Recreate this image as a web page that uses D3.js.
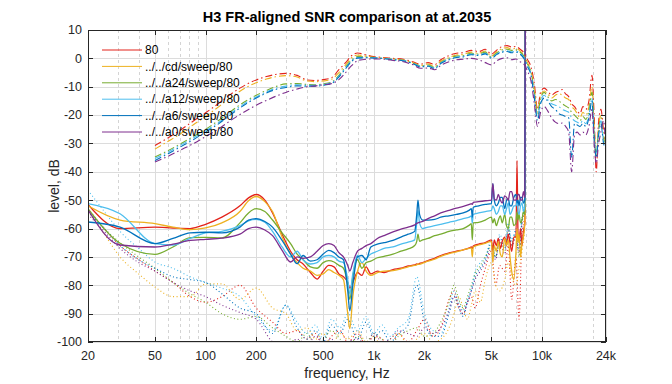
<!DOCTYPE html>
<html>
<head>
<meta charset="utf-8">
<script src="https://cdn.jsdelivr.net/npm/d3@7"></script>
<style>
  body { margin: 0; background: #fff; }
  text { font-family: "Liberation Sans", Arial, Helvetica, sans-serif; }
</style>
</head>
<body>
<svg id="vis"></svg>
<script>
// series names and colours (legend order)
const SERIES = ['80', '../../cd/sweep/80', '../../a24/sweep/80', '../../a12/sweep/80', '../../a6/sweep/80', '../../a0/sweep/80']
const COLORS = ['#e3231b', '#edb120', '#77ac30', '#4dbeee', '#0072bd', '#7e2f8e']

// axis ticks
const X_TICKS = [20, 50, 100, 200, 500, 1000, 2000, 5000, 10000, 24000]
const X_TICK_LABELS = ['20', '50', '100', '200', '500', '1k', '2k', '5k', '10k', '24k']
const Y_TICKS = [10, 0, -10, -20, -30, -40, -50, -60, -70, -80, -90, -100]

// frequency response, dash-dot
const frFreq = [50, 60, 70, 85, 100, 120, 140, 160, 180, 200,
  230, 260, 300, 350, 400, 450, 500, 560, 620, 680,
  740, 800, 900, 1000, 1150, 1300, 1500, 1700, 1900, 2100,
  2300, 2500, 2800, 3100, 3400, 3800, 4200, 4600, 5000, 5400,
  5800, 6200, 6600, 7000, 7400, 7800, 8200, 8600, 9000, 9400,
  9800, 10300, 10800, 11400, 12000, 12600, 13200, 13800, 14400, 15000,
  15600, 16200, 16800, 17500, 18200, 19000, 19800, 20400, 21000, 21700,
  22400, 23200, 24000]
const frRed = [-30.7, -28, -25.5, -22, -19.2, -15.8, -12.8, -10.5, -8.8, -7.6,
  -6.4, -5.7, -5.3, -6, -7.6, -7.8, -7.5, -6.8, -4, -1.5,
  1, 1.9, 1.2, 0.6, 0.3, 0, -0.3, -1.2, -2, -1.5,
  -2.2, -0.5, 1, 1.8, 2, 2.8, 2.4, 3.2, 1.5, 3,
  4.2, 4.5, 4, 4.2, 3.2, 2, -0.5, -3, -9, -18,
  -12, -10.5, -11.5, -13, -12, -11.5, -11, -12.5, -13.5, -16,
  -17, -18.5, -19.5, -17, -18, -15, -6, -20, -40, -22,
  -18, -25, -27]
const frCd = [-32, -29.2, -26.8, -23.3, -20.5, -17, -14, -11.6, -9.8, -8.6,
  -7.3, -6.5, -6.1, -6.6, -8, -8.2, -8, -7.4, -5, -2.3,
  0.3, 1.2, 0.8, 0.4, 0.1, -0.2, -0.6, -1.5, -2.5, -2,
  -2.8, -1, 0.3, 1.2, 1.4, 2.2, 1.8, 2.6, 0.8, 2.4,
  3.5, 3.8, 3.2, 3.6, 2.6, 1.2, -1.5, -4.5, -11, -19,
  -13, -11.5, -12.5, -14, -13, -12.5, -13, -14, -14.5, -17,
  -18, -19.5, -21, -19, -20, -17, -10, -24, -35, -24,
  -20, -27, -29]
const frA24 = [-34.8, -32.5, -30.3, -27.5, -25, -21.8, -18.8, -16.4, -14.5, -13,
  -11.3, -10, -9, -8.9, -9.2, -9.3, -9, -8.4, -6, -3,
  -0.5, 0.6, 0.5, 0.3, 0, -0.3, -0.7, -1.6, -2.7, -2.4,
  -3.2, -1.4, 0, 0.8, 1, 1.8, 1.5, 2.2, 0.5, 2,
  3, 3.2, 2.8, 3, 2.2, 0.8, -2, -5, -12, -20,
  -14, -12, -13.5, -15, -14.5, -15, -16, -16.8, -17.5, -19,
  -20, -21, -22, -20.5, -21.5, -18.5, -12, -26, -33, -25,
  -21, -28, -30]
const frA12 = [-35.3, -33, -30.8, -28, -25.5, -22.5, -19.5, -17, -15, -13.6,
  -11.8, -10.6, -9.8, -9.3, -9.5, -9.5, -9.2, -8.6, -6.3, -3.3,
  -0.8, 0.3, 0.3, 0.2, 0, -0.4, -0.8, -1.7, -2.8, -2.6,
  -3.4, -1.6, -0.3, 0.5, 0.7, 1.5, 1.2, 1.8, 0.2, 1.6,
  2.5, 2.7, 2.3, 2.5, 1.8, 0.3, -2.5, -5.5, -13, -21,
  -15, -13, -14.5, -16, -16.5, -17, -18, -18.5, -19, -21,
  -22, -22.5, -23, -22, -23, -20, -14, -27, -34, -26,
  -22, -29, -31]
const frA6 = [-36, -33.6, -31.4, -28.6, -26, -23, -20, -17.5, -15.5, -14,
  -12.2, -11, -10.3, -9.7, -9.8, -9.8, -9.5, -8.9, -6.6, -3.6,
  -1, 0.1, 0.2, 0.1, -0.1, -0.5, -0.9, -1.8, -3, -2.8,
  -3.6, -1.8, -0.5, 0.3, 0.5, 1.3, 1, 1.6, 0, 1.4,
  2.2, 2.4, 2, 2.2, 1.5, 0, -3, -6, -14, -22,
  -16, -14, -15, -17, -18, -19.5, -20, -20.5, -21, -35,
  -23, -23.5, -24, -23, -24, -21, -15, -28, -35, -27,
  -23, -30, -32]
const frA0 = [-36.5, -34.5, -32.5, -30, -27.6, -24.8, -22, -19.8, -18, -16.5,
  -14.8, -13.4, -12, -10.8, -10, -9.7, -9.3, -8.9, -7.5, -5,
  -2.5, -0.8, -0.3, -0.2, -0.3, -0.7, -1.2, -2.2, -3.5, -3.4,
  -4, -2.5, -1.2, -0.5, -0.3, 0, -0.5, -1.5, -2.3, -0.8,
  0, 0.2, -0.5, -0.2, -1.2, -2, -4.5, -8, -16, -24,
  -19, -17, -18.5, -21, -22.5, -23, -22.8, -24, -26, -40,
  -27, -26, -27, -26, -27, -24, -18, -30, -37, -30,
  -26, -22, -34]

// distortion level, solid
const solidFreq = [20, 31, 50, 64, 81, 100, 125, 160, 180, 200,
  225, 250, 285, 320, 350, 380, 420, 460, 500, 540,
  580, 620, 660, 700, 720, 750, 800, 850, 900, 960,
  1050, 1150, 1300, 1450, 1600, 1750, 1800, 1830, 1870, 1950,
  2100, 2300, 2500, 2800, 3100, 3400, 3700, 3800, 3850, 3900,
  4200, 4600, 5000, 5100, 5200, 5350, 5500, 5650, 5800, 6000,
  6150, 6300, 6450, 6600, 6800, 7000, 7100, 7200, 7300, 7450,
  7600, 7750, 7900, 7960]
const solidRed = [-51.5, -60, -59.5, -59.8, -60, -58.5, -56, -52, -49.2, -48,
  -50, -54.5, -62, -68, -71, -72.5, -75.5, -77.8, -75, -73,
  -73.5, -76, -77, -79, -81, -79, -75.5, -76.5, -73.5, -76,
  -75, -75.5, -74.5, -74, -73.2, -72.8, -72.5, -72.6, -72.3, -72,
  -71.3, -70.5, -69.5, -68.6, -68, -67.5, -66.8, -66.5, -67, -66.2,
  -65.5, -65, -64, -68, -64, -66, -63.5, -67, -64.5, -63,
  -66, -62, -65, -68, -63, -63, -36, -62, -64, -60,
  -66, -61, -58, 30]
const solidCd = [-52, -57, -58.3, -59.5, -60.4, -59.8, -58, -54, -50.2, -48.7,
  -50.5, -54, -63, -69, -72, -74, -75, -76.5, -76, -74.5,
  -75.5, -76.5, -78, -90, -95.3, -84, -75, -72, -75, -76.5,
  -75.5, -75, -74.8, -74.2, -73.5, -73, -72.8, -72.5, -72.6, -72.2,
  -71.5, -70.8, -69.8, -68.8, -68.2, -67.5, -67, -66.8, -70, -66.5,
  -65.8, -65.2, -64.5, -72, -66, -68, -64.5, -69, -70, -63.5,
  -66, -64, -70, -75, -78, -68, -60, -65, -62, -70,
  -65, -63, -58, 30]
const solidA24 = [-53, -65.2, -69.1, -66.5, -63.2, -63.1, -63.3, -58, -54.5, -53,
  -54, -57, -61.5, -65.3, -69, -71, -73.5, -74, -72, -71.3,
  -71.8, -73, -74, -80, -85, -77, -71, -74, -72, -71.5,
  -70.3, -69.8, -69, -68, -67.2, -66, -64.5, -62, -64.5, -64,
  -63.5, -62.5, -62, -61, -60.5, -60, -58.8, -58.3, -64, -58,
  -57.8, -57, -56, -58, -56.5, -59, -57, -55.5, -58, -55,
  -59, -60, -56, -56, -59, -58, -54, -57, -55, -58,
  -57, -54, -55, 30]
const solidA12 = [-51.2, -54.8, -65.3, -65.8, -63.5, -61.5, -61, -59, -57.3, -56.8,
  -57.8, -61, -66.5, -70, -68, -71, -72.5, -72, -70, -69.5,
  -70, -71.5, -72, -78, -83, -76, -69.5, -72, -70.5, -69,
  -68, -67, -66.5, -65.5, -64.8, -64, -58, -53.6, -58, -60,
  -59.5, -59, -58.5, -57.8, -57.2, -56.5, -56, -55.5, -58, -55,
  -54.5, -54, -53.6, -52, -53, -55, -54, -52, -52, -55,
  -53, -51, -55, -54, -52, -52, -50, -54, -55, -52,
  -51, -54, -52, 30]
const solidA6 = [-57.7, -59.5, -65.3, -63.5, -61.5, -61.3, -61.5, -59.5, -57, -56.5,
  -57.5, -59.5, -64.2, -69, -72.4, -69.5, -71.5, -71, -69, -67.7,
  -68.5, -70, -71, -82, -89, -80, -70, -69.5, -71, -66.5,
  -65.5, -65, -64.2, -63, -62, -61, -55, -50, -55, -57,
  -57, -56.8, -56, -55.5, -55, -54.5, -53.5, -53, -56, -52.5,
  -52, -51.5, -51.2, -44.2, -50, -52, -51, -49, -49, -53,
  -50, -49.5, -52, -52, -49, -48, -51, -50, -52, -49,
  -49, -51, -50, 30]
const solidA0 = [-53.4, -65.8, -66.5, -65.5, -64.2, -63.8, -63.4, -62, -60, -59.5,
  -60.5, -62.5, -67.7, -71.8, -70, -70.5, -70, -68, -66, -65.3,
  -66, -68.5, -70, -73, -75, -72, -68, -67, -66, -65.3,
  -63.5, -62.5, -61.2, -60.2, -59.5, -58.7, -58.2, -58, -57.8, -57.5,
  -56.5, -55.5, -54.5, -53.6, -52.8, -52.2, -51.5, -51.2, -51.5, -50.8,
  -50.5, -50.2, -50, -44.2, -49.5, -50, -48, -50, -51, -48.5,
  -49, -50, -47, -47, -50, -50, -49, -48, -48, -50,
  -50, -47, -49, 30]

// noise level, dotted
const dotFreq = [20, 25, 31, 40, 50, 64, 81, 100, 125, 160,
  200, 250, 300, 350, 400, 450, 500, 560, 630, 700,
  800, 900, 1000, 1120, 1250, 1400, 1600, 1800, 2000, 2250,
  2500, 2800, 3000, 3200, 3400, 3600, 3800, 4000, 4300, 4600,
  5000, 5300, 5600, 6000, 6300, 6600, 7000, 7300, 7600, 7900,
  7960]
const dotRed = [-53, -60, -66, -71, -75, -79, -84, -86, -84, -80,
  -88, -93, -97, -96, -99, -97, -102, -98, -96, -100,
  -97, -101, -98, -99, -102, -97, -100, -96, -92, -98,
  -95, -85, -82, -88, -90, -86, -84, -88, -80, -74,
  -68, -80, -73, -75, -66, -85, -70, -92, -62, -55,
  30]
const dotCd = [-54, -62, -70, -76, -80.6, -84, -84, -79.5, -79.5, -85,
  -81, -88, -90, -96, -95, -99, -97, -101, -97, -99,
  -96, -100, -98, -102, -99, -97, -101, -99, -97, -100,
  -99, -95, -90, -84, -88, -92, -87, -82, -86, -78,
  -72, -80, -82, -78, -72, -77, -80, -74, -68, -58,
  30]
const dotA24 = [-54, -60, -65, -70, -74, -79, -83, -86, -90, -92,
  -91, -95, -98, -100, -97, -101, -99, -96, -99, -102,
  -98, -100, -97, -99, -101, -98, -96, -95, -98, -97,
  -93, -86, -80, -85, -88, -84, -80, -76, -73, -70,
  -66, -70, -65, -68, -60, -66, -62, -70, -58, -52,
  30]
const dotA12 = [-46.5, -54, -61, -67, -71.8, -74, -77, -79, -81, -84,
  -91, -96, -87, -93, -97, -94, -99, -92, -95, -90,
  -96, -91, -97, -94, -98, -95, -92, -77, -90, -96,
  -97, -88, -82, -86, -89, -85, -81, -75, -72, -70,
  -64, -68, -62, -66, -58, -64, -60, -66, -56, -50,
  30]
const dotA6 = [-54, -60, -66, -71, -74, -77, -78, -79, -83, -88,
  -90, -97, -87, -95, -99, -96, -100, -94, -97, -92,
  -99, -93, -98, -96, -100, -97, -94, -80, -93, -98,
  -98, -90, -84, -88, -91, -86, -82, -77, -74, -71,
  -65, -70, -63, -67, -60, -65, -61, -68, -57, -51,
  30]
const dotA0 = [-55, -61, -67, -72, -75, -79, -82, -84, -87, -89.6,
  -92, -100, -102, -99, -101, -98, -100, -99, -102, -100,
  -99, -101, -97, -100, -99, -96, -97, -98, -95, -97,
  -95, -89, -84, -87, -90, -86, -82, -78, -75, -72,
  -67, -71, -64, -69, -61, -66, -63, -69, -58, -53,
  30]

const FR_LEVELS = [frRed, frCd, frA24, frA12, frA6, frA0]
const SOLID_LEVELS = [solidRed, solidCd, solidA24, solidA12, solidA6, solidA0]
const DOT_LEVELS = [dotRed, dotCd, dotA24, dotA12, dotA6, dotA0]

// layout
const WIDTH = 672
const HEIGHT = 384
const LEFT = 88
const RIGHT = 606
const TOP = 30
const BOTTOM = 342
const AXIS_COLOR = '#262626'

var svg = d3.select('#vis')
    .attr('width', WIDTH)
    .attr('height', HEIGHT)

var x = d3.scaleLog().domain([20, 24000]).range([LEFT, RIGHT])
var y = d3.scaleLinear().domain([-100, 10]).range([BOTTOM, TOP])

// minor grid positions on the log axis
var minorX = []
for (let dec = 10; dec <= 10000; dec *= 10) {
    for (let m = 2; m <= 9; m++) {
        let f = m * dec
        if (f > 20 && f < 24000 && X_TICKS.indexOf(f) < 0) minorX.push(f)
    }
}
minorX.push(20000)

// grid
svg.append('g').selectAll('line').data(minorX).join('line')
    .attr('x1', d => Math.round(x(d)) + 0.5).attr('x2', d => Math.round(x(d)) + 0.5)
    .attr('y1', TOP).attr('y2', BOTTOM)
    .attr('stroke', '#d4d4d4').attr('stroke-dasharray', '3,3')
svg.append('g').selectAll('line').data(X_TICKS).join('line')
    .attr('x1', d => Math.round(x(d)) + 0.5).attr('x2', d => Math.round(x(d)) + 0.5)
    .attr('y1', TOP).attr('y2', BOTTOM)
    .attr('stroke', '#dcdcdc')
svg.append('g').selectAll('line').data(Y_TICKS).join('line')
    .attr('x1', LEFT).attr('x2', RIGHT)
    .attr('y1', d => Math.round(y(d)) + 0.5).attr('y2', d => Math.round(y(d)) + 0.5)
    .attr('stroke', '#dcdcdc')

// clip to the axes box
svg.append('clipPath').attr('id', 'plot')
    .append('rect').attr('x', LEFT).attr('y', TOP).attr('width', RIGHT - LEFT).attr('height', BOTTOM - TOP)

var plot = svg.append('g').attr('clip-path', 'url(#plot)')

function drawLine(freqs, levels, color, dash, width) {
    var line = d3.line()
        .x((d, i) => x(freqs[i]))
        .y(d => y(d))
        .curve(d3.curveMonotoneX)
    plot.append('path')
        .attr('d', line(levels))
        .attr('fill', 'none')
        .attr('stroke', color)
        .attr('stroke-width', width)
        .attr('stroke-dasharray', dash)
        .attr('stroke-linejoin', 'round')
}

// dotted noise, then solid distortion, then dash-dot response
DOT_LEVELS.forEach((lv, i) => drawLine(dotFreq, lv, COLORS[i], '1,2.5', 1.1))
SOLID_LEVELS.forEach((lv, i) => drawLine(solidFreq, lv, COLORS[i], null, 1.3))
FR_LEVELS.forEach((lv, i) => drawLine(frFreq, lv, COLORS[i], '7,3,1.5,3', 1.1))

// axes box
svg.append('rect')
    .attr('x', LEFT + 0.5).attr('y', TOP + 0.5)
    .attr('width', RIGHT - LEFT - 1).attr('height', BOTTOM - TOP - 1)
    .attr('fill', 'none').attr('stroke', AXIS_COLOR)

// ticks (pointing inward)
X_TICKS.forEach(function(t) {
    let px = Math.round(x(t)) + 0.5
    svg.append('line').attr('x1', px).attr('x2', px).attr('y1', BOTTOM).attr('y2', BOTTOM - 5).attr('stroke', AXIS_COLOR)
    svg.append('line').attr('x1', px).attr('x2', px).attr('y1', TOP).attr('y2', TOP + 5).attr('stroke', AXIS_COLOR)
})
Y_TICKS.forEach(function(t) {
    let py = Math.round(y(t)) + 0.5
    svg.append('line').attr('x1', LEFT).attr('x2', LEFT + 5).attr('y1', py).attr('y2', py).attr('stroke', AXIS_COLOR)
    svg.append('line').attr('x1', RIGHT).attr('x2', RIGHT - 5).attr('y1', py).attr('y2', py).attr('stroke', AXIS_COLOR)
})

// tick labels
svg.append('g').selectAll('text').data(X_TICKS).join('text')
    .attr('x', d => x(d))
    .attr('y', BOTTOM + 18)
    .attr('font-size', '12.5px')
    .attr('fill', AXIS_COLOR)
    .style('text-anchor', 'middle')
    .text((d, i) => X_TICK_LABELS[i])
svg.append('g').selectAll('text').data(Y_TICKS).join('text')
    .attr('x', LEFT - 6)
    .attr('y', d => y(d))
    .attr('dy', '.35em')
    .attr('font-size', '12.5px')
    .attr('fill', AXIS_COLOR)
    .style('text-anchor', 'end')
    .text(d => d)

// axis labels and title
svg.append('text')
    .attr('x', (LEFT + RIGHT) / 2)
    .attr('y', 378)
    .attr('font-size', '14px')
    .attr('fill', AXIS_COLOR)
    .style('text-anchor', 'middle')
    .text('frequency, Hz')
svg.append('text')
    .attr('transform', `translate(59, ${(TOP + BOTTOM) / 2}) rotate(-90)`)
    .attr('font-size', '14px')
    .attr('fill', AXIS_COLOR)
    .style('text-anchor', 'middle')
    .text('level, dB')
svg.append('text')
    .attr('x', (LEFT + RIGHT) / 2)
    .attr('y', 22)
    .attr('font-size', '14.5px')
    .attr('font-weight', 'bold')
    .attr('fill', '#000')
    .style('text-anchor', 'middle')
    .text('H3 FR-aligned SNR comparison at at.2035')

// legend (no box)
SERIES.forEach(function(name, i) {
    let ly = 50 + i * 16.4
    svg.append('line')
        .attr('x1', 102).attr('x2', 142)
        .attr('y1', ly).attr('y2', ly)
        .attr('stroke', COLORS[i]).attr('stroke-width', 1)
    svg.append('text')
        .attr('x', 145).attr('y', ly)
        .attr('dy', '.35em')
        .attr('font-size', '12px')
        .attr('fill', '#000')
        .text(name)
})
</script>
</body>
</html>
